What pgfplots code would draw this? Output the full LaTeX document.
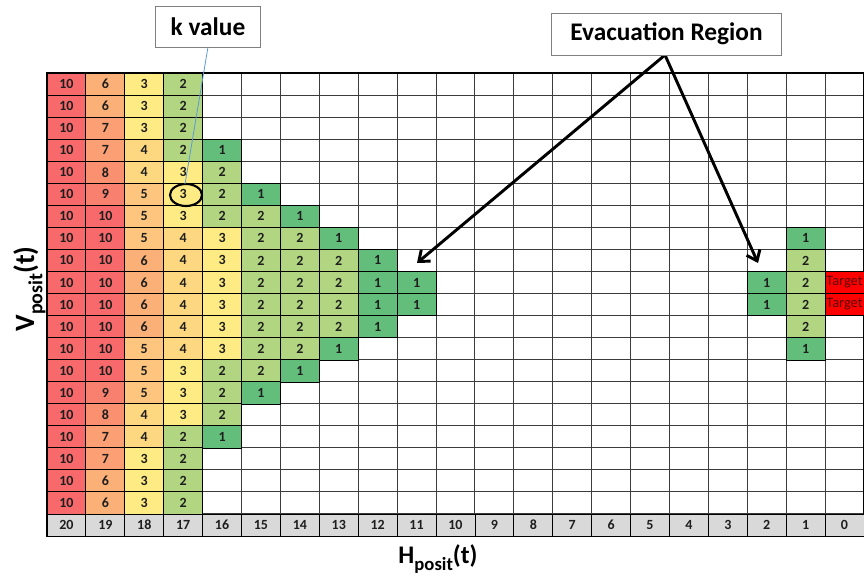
\documentclass[border=0pt]{standalone}
\usepackage{pgfplots}
\pgfplotsset{compat=1.18}
\usepackage{fontspec}
\setmainfont{Carlito}
\usetikzlibrary{arrows.meta}

\pgfplotstableread[row sep=\\]{
x y\\
20 21\\ 19 21\\ 18 21\\ 17 21\\ 16 21\\ 15 21\\ 14 21\\ 13 21\\ 12 21\\ 11 21\\ 10 21\\
9 21\\ 8 21\\ 7 21\\ 6 21\\ 5 21\\ 4 21\\ 3 21\\ 2 21\\ 1 21\\ 0 21\\
}\hlabels

\definecolor{gridgray}{RGB}{60,60,60}
\definecolor{labgray}{RGB}{217,217,217}
\definecolor{celltext}{RGB}{30,30,30}
\definecolor{targettext}{RGB}{90,0,0}
\definecolor{linkblue}{RGB}{91,155,213}
\definecolor{k1}{RGB}{99,190,123}
\definecolor{k2}{RGB}{177,213,128}
\definecolor{k3}{RGB}{255,235,132}
\definecolor{k4}{RGB}{254,216,128}
\definecolor{k5}{RGB}{253,197,125}
\definecolor{k6}{RGB}{251,176,120}
\definecolor{k7}{RGB}{250,160,116}
\definecolor{k8}{RGB}{249,145,113}
\definecolor{k9}{RGB}{248,128,110}
\definecolor{k10}{RGB}{248,105,107}

\pgfplotsset{
  cellmark/.style={only marks, mark=square*, mark size=8.4pt,
    mark options={xscale=1.75, draw=none, fill=#1}},
  kcell/.style={cellmark=k#1, nodes near coords={#1}},
}

\begin{document}
\begin{tikzpicture}
\useasboundingbox (0,0) rectangle (648pt,-433.5pt);
\begin{axis}[
  at={(35.25pt,-54.75pt)}, anchor=north west,
  scale only axis, width=612.75pt, height=347.25pt,
  xmin=-0.5, xmax=20.5, ymin=0.5, ymax=21.5,
  x dir=reverse, y dir=reverse,
  axis on top,
  xtick={0.5,1.5,...,19.5}, ytick={1.5,2.5,...,20.5},
  xticklabels={}, yticklabels={},
  major tick length=0pt,
  grid=major,
  grid style={gridgray, line width=0.8pt},
  axis line style={black, line width=1.6pt},
  clip=false,
  /pgf/number format/assume math mode=true,
  every node near coord/.append style={anchor=center, text=celltext, font=\bfseries\fontsize{10.5}{12}\selectfont},
]
% k = 10
\addplot[kcell=10] coordinates {
 (20,1) (20,2) (20,3) (20,4) (20,5) (20,6) (20,7) (20,8) (20,9) (20,10)
 (20,11) (20,12) (20,13) (20,14) (20,15) (20,16) (20,17) (20,18) (20,19) (20,20)
 (19,7) (19,8) (19,9) (19,10) (19,11) (19,12) (19,13) (19,14)};
% k = 9
\addplot[kcell=9] coordinates {(19,6) (19,15)};
% k = 8
\addplot[kcell=8] coordinates {(19,5) (19,16)};
% k = 7
\addplot[kcell=7] coordinates {(19,3) (19,4) (19,17) (19,18)};
% k = 6
\addplot[kcell=6] coordinates {(19,1) (19,2) (19,19) (19,20) (18,9) (18,10) (18,11) (18,12)};
% k = 5
\addplot[kcell=5] coordinates {(18,6) (18,7) (18,8) (18,13) (18,14) (18,15)};
% k = 4
\addplot[kcell=4] coordinates {(18,4) (18,5) (18,16) (18,17)
 (17,8) (17,9) (17,10) (17,11) (17,12) (17,13)};
% k = 3
\addplot[kcell=3] coordinates {(18,1) (18,2) (18,3) (18,18) (18,19) (18,20)
 (17,5) (17,6) (17,7) (17,14) (17,15) (17,16)
 (16,8) (16,9) (16,10) (16,11) (16,12) (16,13)};
% k = 2
\addplot[kcell=2] coordinates {(17,1) (17,2) (17,3) (17,4) (17,17) (17,18) (17,19) (17,20)
 (16,5) (16,6) (16,7) (16,14) (16,15) (16,16)
 (15,7) (15,8) (15,9) (15,10) (15,11) (15,12) (15,13) (15,14)
 (14,8) (14,9) (14,10) (14,11) (14,12) (14,13)
 (13,9) (13,10) (13,11) (13,12)
 (1,9) (1,10) (1,11) (1,12)};
% k = 1
\addplot[kcell=1] coordinates {(16,4) (16,17) (15,6) (15,15) (14,7) (14,14) (13,8) (13,13)
 (12,9) (12,10) (12,11) (12,12) (11,10) (11,11) (2,10) (2,11) (1,8) (1,13)};

\addplot[cellmark=labgray,
  point meta=x,
  nodes near coords={\pgfmathprintnumber{\pgfplotspointmeta}},
] table[x=x, y=y] {\hlabels};

\addplot[cellmark=red,
  nodes near coords={Target},
  every node near coord/.append style={anchor=west, inner sep=0.5pt, xshift=-14.3pt, text=targettext, font=\fontsize{10.8}{12}\selectfont},
] coordinates {(0,10) (0,11)};

\draw[line width=1.6pt] (axis cs:20.5,20.5) -- (axis cs:-0.5,20.5);
\end{axis}

\begin{scope}[x=0.75pt, y=-0.75pt]
\draw[line width=1.6pt] (186,195) ellipse [x radius=16, y radius=11];
\draw[linkblue, line width=0.6pt] (208,47) -- (185,184);
\node[draw=gray, line width=0.6pt, fill=white, minimum width=78.75pt, minimum height=30.75pt, inner sep=0pt,
  font=\bfseries\fontsize{19}{22}\selectfont] at (208,26.5) {k value};
\draw[line width=2.2pt, -{Straight Barb[length=7pt, width=11pt]}] (665,55) -- (417,263);
\draw[line width=2.2pt, -{Straight Barb[length=7pt, width=11pt]}] (665,55) -- (758,263);
\node[draw=gray, line width=0.6pt, fill=white, minimum width=173pt, minimum height=31.5pt, inner sep=0pt,
  font=\bfseries\fontsize{19}{22}\selectfont] at (666.5,34) {Evacuation Region};
\node[anchor=base, font=\bfseries\fontsize{19}{22}\selectfont] at (438,563)
  {H\raisebox{-0.3em}{\fontsize{14}{14}\selectfont posit}(t)};
\node[rotate=90, anchor=base, font=\bfseries\fontsize{21}{24}\selectfont] at (34,289)
  {V\raisebox{-0.3em}{\fontsize{15}{15}\selectfont posit}(t)};
\end{scope}
\end{tikzpicture}
\end{document}
